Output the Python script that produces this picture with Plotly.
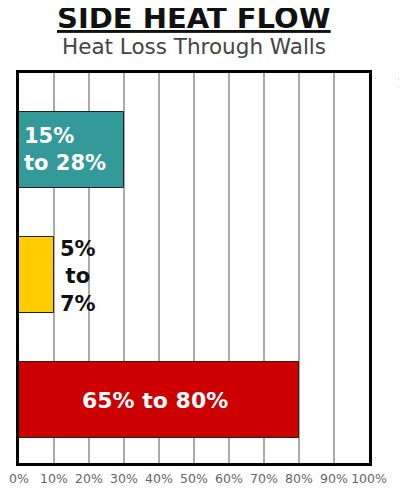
import plotly.graph_objects as go

### Data ###
categories = ["Top", "Middle", "Bottom"]
bar_values = [30, 10, 80]
bar_labels = ["15%<br>to 28%", "5%<br>to<br>7%", "65% to 80%"]
bar_colors = ["#339999", "#ffcc00", "#cc0000"]
label_colors = ["white", "#111111", "white"]
tick_values = [0, 10, 20, 30, 40, 50, 60, 70, 80, 90, 100]
tick_text = ["0%", "10%", "20%", "30%", "40%", "50%", "60%", "70%", "80%", "90%", "100%"]

title_text = "SIDE HEAT FLOW"
subtitle_text = "Heat Loss Through Walls"

fig = go.Figure()

fig.add_trace(go.Bar(
    x=bar_values, y=categories, orientation="h",
    width=0.607,
    marker=dict(color=bar_colors, line=dict(color="#222222", width=1)),
    hoverinfo="skip", showlegend=False))

# Labels: teal left-aligned inside, yellow outside, red centred inside
fig.add_annotation(x=0, y=categories[0], xanchor="left", xshift=3, align="left",
                   text="<b>" + bar_labels[0] + "</b>", showarrow=False,
                   font=dict(family="DejaVu Sans", size=21, color=label_colors[0]))
fig.add_annotation(x=bar_values[1], y=categories[1], xanchor="left", xshift=4, align="center",
                   yshift=-2,
                   text="<b>" + bar_labels[1] + "</b>", showarrow=False,
                   font=dict(family="DejaVu Sans", size=21, color=label_colors[1]))
fig.add_annotation(x=bar_values[2] / 2, y=categories[2], xshift=-4,
                   text="<b>" + bar_labels[2] + "</b>", showarrow=False,
                   font=dict(family="DejaVu Sans", size=22, color=label_colors[2]))

# Title and subtitle
fig.add_annotation(x=0.5, y=1.141, xref="paper", yref="paper", yanchor="middle",
                   text="<b><u>" + title_text + "</u></b>", showarrow=False,
                   font=dict(family="DejaVu Sans", size=29, color="#111111"))
fig.add_annotation(x=0.5, y=1.069, xref="paper", yref="paper", yanchor="middle",
                   text=subtitle_text, showarrow=False,
                   font=dict(family="DejaVu Sans", size=21.5, color="#444444"))
fig.add_annotation(x=1.075, y=1.0, xref="paper", yref="paper", xanchor="left", yanchor="top",
                   text="<b>1</b>", showarrow=False,
                   font=dict(family="DejaVu Serif", size=14, color="#333333"))

fig.update_xaxes(range=[0, 100], tickvals=tick_values, ticktext=tick_text,
                 showgrid=True, gridcolor="#aaaaaa", gridwidth=1.5,
                 showline=True, mirror=True, linecolor="black", linewidth=3,
                 zeroline=False, ticks="", ticklabelstandoff=2,
                 tickangle=0, automargin=False,
                 tickfont=dict(family="DejaVu Sans", size=12.5, color="#666666"))
fig.update_yaxes(range=[2.503, -0.611], showticklabels=False, showgrid=False,
                 showline=True, mirror=True, linecolor="black", linewidth=3,
                 zeroline=False, ticks="", automargin=False)

# the page body adds an 8px margin, so the margins are pulled in by 8px
fig.update_layout(width=407, height=490,
                  margin=dict(l=11, r=46, t=65, b=35),
                  paper_bgcolor="white", plot_bgcolor="white",
                  bargap=0)

fig.write_html("out.html")
